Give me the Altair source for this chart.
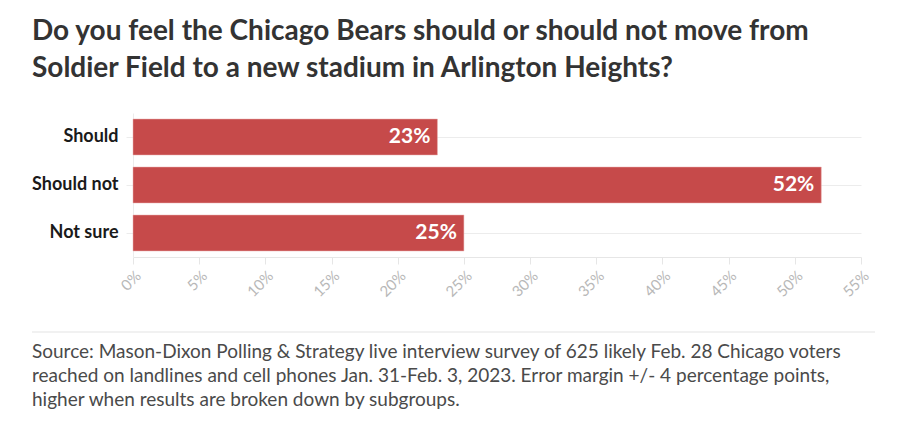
import altair as alt
import pandas as pd

categories = ["Should", "Should not", "Not sure"]
values = [23, 52, 25]
x_ticks = [0, 5, 10, 15, 20, 25, 30, 35, 40, 45, 50, 55]
title_lines = ["Do you feel the Chicago Bears should or should not move from",
               "Soldier Field to a new stadium in Arlington Heights?"]
footer_lines = ["Source: Mason-Dixon Polling & Strategy live interview survey of 625 likely Feb. 28 Chicago voters",
                "reached on landlines and cell phones Jan. 31-Feb. 3, 2023. Error margin +/- 4 percentage points,",
                "higher when results are broken down by subgroups."]

df = pd.DataFrame({"answer": categories, "pct": values})
FONT = "Lato"

x = alt.X("pct:Q", scale=alt.Scale(domain=[0, 55], nice=False),
          axis=alt.Axis(values=x_ticks, labelExpr="datum.value + '%'", labelAngle=315,
                        grid=False, title=None, domainColor="#e6e6e6", tickColor="#e6e6e6",
                        tickSize=7, labelColor="#b8b8b8", labelFontSize=15, labelFont=FONT,
                        labelPadding=4))
y = alt.Y("answer:N", sort=categories,
          scale=alt.Scale(paddingInner=0.25, paddingOuter=0.125),
          axis=alt.Axis(title=None, grid=True, gridColor="#ececec", bandPosition=0.5,
                        domainColor="#ececec", tickColor="#ececec", tickSize=7,
                        labelPadding=8, labelFont=FONT, labelFontSize=18,
                        labelFontWeight="bold", labelColor="#1a1a1a"))

bars = alt.Chart(df).mark_bar(color="#c64a4a", stroke="#e8b0b0", strokeWidth=0.5).encode(x=x, y=y)
labels = alt.Chart(df).transform_calculate(lab="datum.pct + '%'").mark_text(
    align="right", baseline="middle", dx=-7, color="white",
    font=FONT, fontSize=21, fontWeight="bold").encode(
    x="pct:Q", y=alt.Y("answer:N", sort=categories), text="lab:N")

one = alt.Data(values=[{}])
sep = alt.Chart(one).mark_rule(color="#e3e3e3", strokeWidth=1).encode(
    x=alt.value(-101), x2=alt.value(742), y=alt.value(219))
footer = alt.Chart(one).mark_text(text=footer_lines, align="left", baseline="top",
                                  lineHeight=24, font=FONT, fontSize=19, color="#4a4a4a").encode(
    x=alt.value(-101), y=alt.value(230))

chart = alt.layer(bars, labels, sep, footer).properties(
    width=728, height=144,
    background="white",
    autosize=alt.AutoSizeParams(type="none"),
    padding={"left": 125, "top": 105, "right": 31, "bottom": 173},
    title=alt.TitleParams(text=title_lines, anchor="start", frame="group", dx=-101,
                          offset=30, font=FONT, fontSize=28, fontWeight="bold",
                          color="#333333", lineHeight=37),
).configure_view(stroke=None)

chart.save("out.html", embed_options={"renderer": "svg", "actions": False})
